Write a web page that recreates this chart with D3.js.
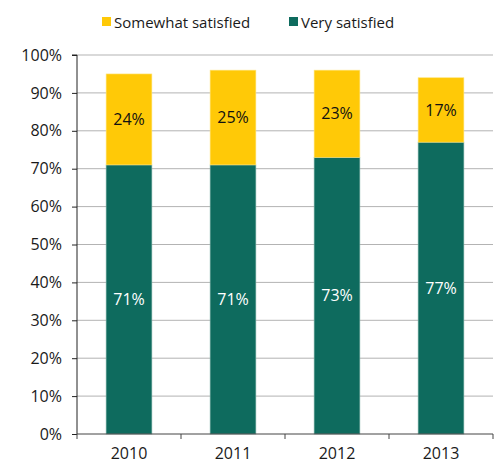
<!DOCTYPE html>
<html>
<head>
<script src="https://d3js.org/d3.v7.min.js"></script>
<style>
  body { margin: 0; background: #fff; }
  text { font-family: "Open Sans", sans-serif; fill: #1a1a1a; }
</style>
</head>
<body>
<div id="chart"></div>
<script>
const years = ["2010", "2011", "2012", "2013"];
const verySatisfied = [71, 71, 73, 77];
const somewhatSatisfied = [24, 25, 23, 17];
const yTicks = [0, 10, 20, 30, 40, 50, 60, 70, 80, 90, 100];

const width = 499, height = 463;
const margin = { top: 55, right: 6, bottom: 29, left: 77 };

const svg = d3.select("#chart").append("svg")
  .attr("width", width)
  .attr("height", height);

const x = d3.scaleBand()
  .domain(years)
  .range([margin.left, width - margin.right])
  .paddingInner(0.56)
  .paddingOuter(0.28);

const y = d3.scaleLinear()
  .domain([0, 100])
  .range([height - margin.bottom, margin.top]);

// gridlines
svg.append("g")
  .selectAll("line")
  .data(yTicks.slice(1))
  .join("line")
  .attr("x1", margin.left)
  .attr("x2", width - margin.right)
  .attr("y1", d => y(d))
  .attr("y2", d => y(d))
  .attr("stroke", "#b3b3b3")
  .attr("stroke-width", 1);

const rows = years.map((yr, i) => ({ year: yr, very: verySatisfied[i], some: somewhatSatisfied[i] }));

const bars = svg.append("g").selectAll("g")
  .data(rows)
  .join("g");

bars.append("rect")
  .attr("x", d => x(d.year))
  .attr("width", x.bandwidth())
  .attr("y", d => y(d.very))
  .attr("height", d => y(0) - y(d.very))
  .attr("fill", "#0e6b5e")
  .attr("stroke", "#7fb0a8")
  .attr("stroke-width", 0.6);

bars.append("rect")
  .attr("x", d => x(d.year))
  .attr("width", x.bandwidth())
  .attr("y", d => y(d.very + d.some))
  .attr("height", d => y(d.very) - y(d.very + d.some))
  .attr("fill", "#ffc907")
  .attr("stroke", "#ffe47a")
  .attr("stroke-width", 0.6);

bars.append("text")
  .attr("x", d => x(d.year) + x.bandwidth() / 2)
  .attr("y", d => y(d.very / 2))
  .attr("dy", "0.35em")
  .attr("text-anchor", "middle")
  .style("font-size", "16px")
  .style("fill", "#fff")
  .text(d => d.very + "%");

bars.append("text")
  .attr("x", d => x(d.year) + x.bandwidth() / 2)
  .attr("y", d => y(d.very + d.some / 2))
  .attr("dy", "0.35em")
  .attr("text-anchor", "middle")
  .style("font-size", "16px")
  .style("fill", "#111")
  .text(d => d.some + "%");

// y axis
const yAxis = svg.append("g")
  .attr("transform", `translate(${margin.left},0)`)
  .call(d3.axisLeft(y).tickValues(yTicks).tickFormat(d => d + "%").tickSize(5).tickPadding(10));
yAxis.select(".domain").attr("stroke", "#222").attr("d", `M-5,${y(100)}H0V${y(0)}`);
yAxis.selectAll(".tick line").attr("stroke", "#222");
yAxis.selectAll("text").style("font-size", "16px").style("font-family", "'Open Sans', sans-serif").attr("fill", "#1a1a1a");

// x axis with tick marks at band boundaries
const xg = svg.append("g")
  .attr("transform", `translate(0,${y(0)})`);
xg.append("line")
  .attr("x1", margin.left).attr("x2", width - margin.right)
  .attr("stroke", "#444");
const step = x.step();
const bounds = years.map(d => x(d) - x.paddingInner() * step / 2).concat([width - margin.right]);
xg.selectAll(".xt")
  .data(bounds)
  .join("line")
  .attr("class", "xt")
  .attr("x1", d => d).attr("x2", d => d)
  .attr("y1", 0).attr("y2", 5)
  .attr("stroke", "#444");
xg.selectAll(".xl")
  .data(years)
  .join("text")
  .attr("class", "xl")
  .attr("x", d => x(d) + x.bandwidth() / 2)
  .attr("y", 25)
  .attr("text-anchor", "middle")
  .style("font-size", "16px")
  .text(d => d);

// legend
const legendItems = [
  { label: "Somewhat satisfied", color: "#ffc907", x: 102 },
  { label: "Very satisfied", color: "#0e6b5e", x: 289 }
];
const lg = svg.append("g").selectAll("g")
  .data(legendItems)
  .join("g")
  .attr("transform", d => `translate(${d.x},17)`);
lg.append("rect").attr("width", 9).attr("height", 9).attr("fill", d => d.color);
lg.append("text")
  .attr("x", 12)
  .attr("y", 11)
  .style("font-size", "15px")
  .text(d => d.label);
</script>
</body>
</html>
